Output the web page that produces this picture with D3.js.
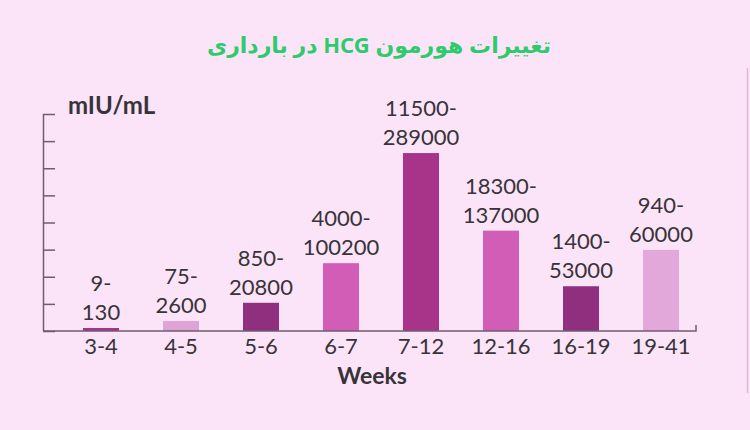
<!DOCTYPE html>
<html>
<head>
<meta charset="utf-8">
<script src="https://cdn.jsdelivr.net/npm/d3@7"></script>
<style>
  html, body { margin: 0; padding: 0; background: #fce4f8; }
  svg { display: block; }
  .lbl { font-family: Lato, 'Open Sans', sans-serif; fill: #383338; }
</style>
</head>
<body>
<div id="chart"></div>
<script>
// weeks of pregnancy
const weeks = ['3-4', '4-5', '5-6', '6-7', '7-12', '12-16', '16-19', '19-41'];
// hCG ranges (mIU/mL) shown over each bar
const rangeLow = ['9', '75', '850', '4000', '11500', '18300', '1400', '940'];
const rangeHigh = ['130', '2600', '20800', '100200', '289000', '137000', '53000', '60000'];
// bar heights as drawn, in y-axis tick units (not to scale with the ranges)
const barHeights = [0.11, 0.37, 1.04, 2.5, 6.56, 3.7, 1.65, 2.99];
const yTicks = [0, 1, 2, 3, 4, 5, 6, 7, 8];
const barColors = ['#a33389', '#e0a3d6', '#8f2f7e', '#d25db6', '#a8348a', '#d25db6', '#8f2f7e', '#e1a8d9'];

const width = 750, height = 430;
const svg = d3.select('#chart').append('svg')
	.attr('width', width)
	.attr('height', height);

svg.append('rect')
	.attr('width', width)
	.attr('height', height)
	.attr('fill', '#fce4f8');

// faint rule on the right edge
svg.append('line')
	.attr('x1', 747.5).attr('x2', 747.5)
	.attr('y1', 68).attr('y2', 393)
	.style('stroke', '#dcb6d6')
	.style('stroke-width', 1.5);

// title (right-to-left)
svg.append('text')
	.attr('x', 379)
	.attr('y', 53)
	.attr('text-anchor', 'middle')
	.attr('direction', 'rtl')
	.style('direction', 'rtl')
	.style('unicode-bidi', 'embed')
	.style('font-family', "'Noto Sans', 'DejaVu Sans', sans-serif")
	.style('font-size', '22px')
	.style('font-weight', 'bold')
	.style('fill', '#2fca6e')
	.text('تغییرات هورمون HCG در بارداری');

const axisLeftX = 43, axisRightX = 696, baseY = 331, topY = 114;

const x = d3.scaleBand()
	.domain(weeks)
	.range([61, 701])
	.paddingInner(0.55)
	.paddingOuter(0.275);

const y = d3.scaleLinear()
	.domain([0, 8])
	.range([baseY, topY]);

// y axis: ticks pointing inwards, no labels
const yAxis = d3.axisRight(y)
	.tickValues(yTicks)
	.tickSize(12)
	.tickFormat('');

const gy = svg.append('g')
	.attr('transform', `translate(${axisLeftX},0)`)
	.call(yAxis);
gy.selectAll('path, line')
	.style('stroke', '#6e5d6c')
	.style('stroke-width', 1.5);
gy.select('.domain').attr('d', `M0.5,${topY}V${baseY}`);

// bars
svg.append('g')
	.selectAll('rect')
	.data(weeks)
	.join('rect')
	.attr('x', d => x(d))
	.attr('width', x.bandwidth())
	.attr('y', (d, i) => y(barHeights[i]))
	.attr('height', (d, i) => baseY - y(barHeights[i]))
	.attr('fill', (d, i) => barColors[i]);

// x axis line with a small end tick
svg.append('path')
	.attr('d', `M${axisLeftX},${baseY}H${axisRightX}V${baseY - 6}`)
	.style('fill', 'none')
	.style('stroke', '#6e5d6c')
	.style('stroke-width', 1.5);

// x tick labels
svg.append('g')
	.selectAll('text')
	.data(weeks)
	.join('text')
	.attr('class', 'lbl')
	.attr('x', d => x(d) + x.bandwidth() / 2)
	.attr('y', 354)
	.attr('text-anchor', 'middle')
	.style('font-size', '22px')
	.text(d => d);

// range labels above the bars
const rangeLabels = svg.append('g')
	.selectAll('text')
	.data(weeks)
	.join('text')
	.attr('class', 'lbl')
	.attr('text-anchor', 'middle')
	.style('font-size', '22px');
rangeLabels.append('tspan')
	.attr('x', d => x(d) + x.bandwidth() / 2)
	.attr('y', (d, i) => y(barHeights[i]) - 8 - 29)
	.text((d, i) => rangeLow[i] + '-');
rangeLabels.append('tspan')
	.attr('x', d => x(d) + x.bandwidth() / 2)
	.attr('y', (d, i) => y(barHeights[i]) - 8)
	.text((d, i) => rangeHigh[i]);

// axis titles
svg.append('text')
	.attr('class', 'lbl')
	.attr('x', 68)
	.attr('y', 114)
	.style('font-size', '24px')
	.style('font-weight', 'bold')
	.text('mIU/mL');

svg.append('text')
	.attr('class', 'lbl')
	.attr('x', 372)
	.attr('y', 384)
	.attr('text-anchor', 'middle')
	.style('font-size', '23px')
	.style('font-weight', 'bold')
	.text('Weeks');
</script>
</body>
</html>
